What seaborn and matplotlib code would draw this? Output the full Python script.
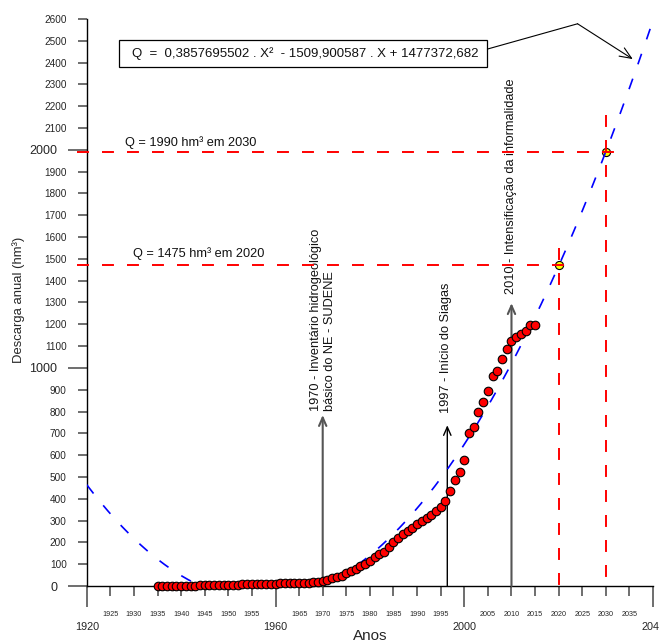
import numpy as np
import pandas as pd
import seaborn as sns
import matplotlib.pyplot as plt
from matplotlib.patches import Rectangle

# dados observados (descarga anual, hm3)
anos = list(range(1935, 2016))
descarga = [1, 1, 1, 1, 1, 2, 2, 2, 2, 3,            # 1935-1944
            3, 3, 4, 4, 5, 5, 6, 6, 7, 7,            # 1945-1954
            8, 8, 9, 10, 10, 11, 12, 12, 13, 14,     # 1955-1964
            14, 15, 16, 17, 19, 23, 28, 35, 41, 47,  # 1965-1974
            58, 69, 78, 92, 102, 115, 132, 145, 156, 177,   # 1975-1984
            202, 219, 238, 252, 266, 283, 300, 313, 327, 343,  # 1985-1994
            362, 391, 434, 485, 524, 579, 703, 728, 797, 843,  # 1995-2004
            896, 962, 988, 1040, 1087, 1122, 1141, 1157, 1170, 1196,  # 2005-2014
            1199]

# projecoes
proj_anos = [2020, 2030]
proj_q = [1470, 1990]

# coeficientes da regressao mostrada no grafico
coef_a = 0.3857695502
coef_b = -1509.900587
coef_c = 1477372.682

x_maj = [1920, 1960, 2000, 2040]
x_min = [v for v in range(1925, 2040, 5) if v not in x_maj]
y_maj = [0, 1000, 2000]
y_min = [v for v in range(100, 2700, 100) if v not in y_maj]

df = pd.DataFrame({"ano": anos, "q": descarga})
xs = np.linspace(1920, 2040, 481)
curva = pd.DataFrame({"ano": xs, "q": np.maximum(coef_a * xs**2 + coef_b * xs + coef_c, 0)})
proj = pd.DataFrame({"ano": proj_anos, "q": proj_q})

sns.set_style("ticks")
plt.rcParams['font.family'] = ['Liberation Sans', 'DejaVu Sans']
plt.rcParams['lines.scale_dashes'] = False

fig = plt.figure(figsize=(6.59, 6.41), dpi=100)
ax = fig.add_axes([0.1316, 0.0858, 0.8594, 0.8846])

# linhas de projecao (vermelhas)
red = '#ff0000'
dash_r = (0, (8.6, 9.4))
ax.plot([1918, 2032.4], [proj_q[1], proj_q[1]], color=red, lw=1.4, linestyle=dash_r, clip_on=False, zorder=4)
ax.plot([1918, 2022.9], [proj_q[0], proj_q[0]], color=red, lw=1.4, linestyle=dash_r, clip_on=False, zorder=4)
ax.plot([proj_anos[0], proj_anos[0]], [1550, 0], color=red, lw=1.4, linestyle=dash_r, zorder=4)
ax.plot([proj_anos[1], proj_anos[1]], [2160, 0], color=red, lw=1.4, linestyle=dash_r, zorder=4)

sns.scatterplot(data=proj, x="ano", y="q", color='#ffff00', edgecolor='black', linewidth=0.8,
                s=34, ax=ax, zorder=3, clip_on=False)

sns.lineplot(data=curva, x="ano", y="q", color='#0000ff', lw=1.2, ax=ax, zorder=5)
ax.lines[-1].set_linestyle((0, (8, 11)))

sns.scatterplot(data=df, x="ano", y="q", color='#ff0000', edgecolor='black', linewidth=0.8,
                s=38, ax=ax, zorder=6, clip_on=False)

# setas de eventos
ax.annotate('', xy=(1970, 784), xytext=(1970, 0),
            arrowprops=dict(arrowstyle='->,head_length=0.5,head_width=0.22', color='#555555', lw=1.5,
                            shrinkA=0, shrinkB=0, mutation_scale=12))
ax.annotate('', xy=(1996.4, 737), xytext=(1996.4, 0),
            arrowprops=dict(arrowstyle='->,head_length=0.5,head_width=0.22', color='black', lw=1.0,
                            shrinkA=0, shrinkB=0, mutation_scale=12))
ax.annotate('', xy=(2010, 1297), xytext=(2010, 0),
            arrowprops=dict(arrowstyle='->,head_length=0.5,head_width=0.22', color='#555555', lw=1.5,
                            shrinkA=0, shrinkB=0, mutation_scale=12))

fs = 9.2
ax.text(1970, 803, '1970 - Inventário hidrogeológico\nbásico do NE - SUDENE', rotation=90,
        ha='center', va='bottom', multialignment='left', fontsize=fs, color='#111111')
ax.text(1996.1, 793, '1997 - Início do Siagas', rotation=90, ha='center', va='bottom',
        fontsize=fs, color='#111111')
ax.text(2009.8, 1339, '2010 - Intensificação da informalidade', rotation=90, ha='center',
        va='bottom', fontsize=fs, color='#111111')

ax.text(1928.1, 2033, 'Q = 1990 hm³ em 2030', ha='left', va='center', fontsize=fs, color='#111111')
ax.text(1929.7, 1526, 'Q = 1475 hm³ em 2020', ha='left', va='center', fontsize=fs, color='#111111')

# equacao
ax.add_patch(Rectangle((1926.8, 2379), 78.1, 126, fc='white', ec='black', lw=0.9, zorder=7))
ax.text(1966.3, 2442, 'Q  =  0,3857695502 . X²  - 1509,900587 . X + 1477372,682',
        ha='center', va='center', fontsize=9.5, color='#111111', zorder=8)
ax.plot([2004.9, 2024.0], [2462, 2578], color='black', lw=0.8, zorder=7, clip_on=False)
ax.annotate('', xy=(2035.7, 2416), xytext=(2024.0, 2578),
            arrowprops=dict(arrowstyle='->,head_length=0.6,head_width=0.25', color='black', lw=0.8,
                            shrinkA=0, shrinkB=0, mutation_scale=14), annotation_clip=False)

ax.set_xlim(1920, 2040)
ax.set_ylim(0, 2600)
sns.despine(ax=ax)
for s in ['left', 'bottom']:
    ax.spines[s].set_color('black')
    ax.spines[s].set_linewidth(1.0)

ax.set_xticks(x_maj, [str(v) for v in x_maj])
ax.set_xticks(x_min, [str(v) for v in x_min], minor=True)
ax.set_yticks(y_maj, [str(v) for v in y_maj])
ax.set_yticks(y_min, [str(v) for v in y_min], minor=True)
ax.tick_params(axis='x', which='major', length=15, width=1.2, color='#555555', labelsize=7.8, pad=11)
ax.tick_params(axis='x', which='minor', length=7.2, width=1.2, color='#555555', labelsize=5.2, pad=11)
ax.tick_params(axis='y', which='major', length=13.4, width=1.2, color='#555555', labelsize=9, pad=7.8)
ax.tick_params(axis='y', which='minor', length=6.5, width=1.2, color='#555555', labelsize=7.2, pad=7.9)

ax.set_xlabel('Anos', fontsize=11)
ax.xaxis.set_label_coords(0.5, -0.088)
ax.xaxis.label.set_verticalalignment('center')
ax.set_ylabel('Descarga anual (hm³)', fontsize=9.4)
ax.yaxis.set_label_coords(-0.121, 0.505)
ax.yaxis.label.set_verticalalignment('center')

fig.savefig('out.png', dpi=100)
